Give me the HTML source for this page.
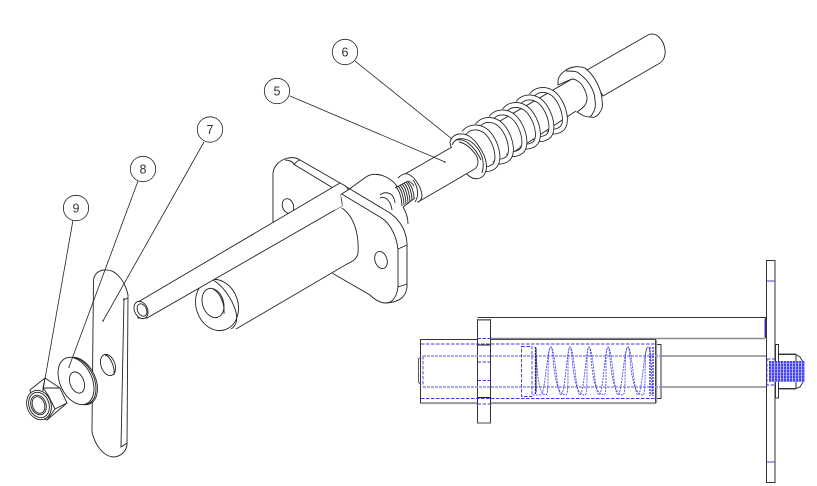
<!DOCTYPE html>
<html><head><meta charset="utf-8"><style>
html,body{margin:0;padding:0;background:#fff;width:817px;height:486px;overflow:hidden}
svg{display:block}
text{font-family:"Liberation Sans",sans-serif;font-size:12.5px;fill:#333;text-anchor:middle}
.k{fill:none;stroke:#222;stroke-width:.9}
.w{fill:#fff;stroke:#222;stroke-width:.9}
.f{fill:#fff;stroke:none}
.t{fill:none;stroke:#222;stroke-width:.8}
.g{stroke:#8a8a8a;stroke-width:1.6;fill:none}
.b{stroke:#3a3ae8;stroke-width:.9;stroke-dasharray:3.5 1.5;fill:none}
.bl{stroke:#8f8fee;stroke-width:1.6;stroke-dasharray:3 1;fill:none}
</style></head><body>
<svg width="817" height="486" viewBox="0 0 817 486" xmlns="http://www.w3.org/2000/svg">
<rect width="817" height="486" fill="#fff"/>

<!-- tip, shaft -->
<path class="w" d="M587,70L648,35C656,31 664,40 665,50C666,56 663,61 660,63L603,96Z"/>
<path class="k" d="M500,121L572,79M500,161L576,111"/>

<!-- collar -->
<path class="w" d="M558,80C559,75 563,72 566,70C572,66 580,66 585,68C590,72 594,77 597,83C600,89 602,95 602,100C603,106 602,110 600,112C597,117 594,118 590,117C586,117 584,116 582,115L577,112C580,110 584,107 585,105C587,102 587,100 587,97C586,92 584,88 582,85C579,81 575,79 572,79L558,85Z"/>
<path class="k" d="M566,71C570,71 574,71 577,72C583,76 587,80 590,85C593,90 595,95 595,100C596,106 595,110 593,113C592,115 591,116 590,117"/>

<!-- spring coils, right to left -->
<g fill="none" stroke-linecap="butt">
<path stroke="#222" stroke-width="5.800" d="M531.500,95.500C537.500,87.500 550.500,87.500 558.500,99.500C565.500,110.500 568.500,127.500 558.500,130.500C554.500,132.500 550.500,131.500 548.500,129.500"/>
<path stroke="#fff" stroke-width="4.100" d="M531.500,95.500C537.500,87.500 550.500,87.500 558.500,99.500C565.500,110.500 568.500,127.500 558.500,130.500C554.500,132.500 550.500,131.500 548.500,129.500"/>
<path stroke="#222" stroke-width="5.800" d="M518,103C524,95 537,95 545,107C552,118 555,135 545,138C541,140 537,139 535,137"/>
<path stroke="#fff" stroke-width="4.100" d="M518,103C524,95 537,95 545,107C552,118 555,135 545,138C541,140 537,139 535,137"/>
<path stroke="#222" stroke-width="5.800" d="M504.500,110.500C510.500,102.500 523.500,102.500 531.500,114.500C538.500,125.500 541.500,142.500 531.500,145.500C527.500,147.500 523.500,146.500 521.500,144.500"/>
<path stroke="#fff" stroke-width="4.100" d="M504.500,110.500C510.500,102.500 523.500,102.500 531.500,114.500C538.500,125.500 541.500,142.500 531.500,145.500C527.500,147.500 523.500,146.500 521.500,144.500"/>
<path stroke="#222" stroke-width="5.800" d="M491,118C497,110 510,110 518,122C525,133 528,150 518,153C514,155 510,154 508,152"/>
<path stroke="#fff" stroke-width="4.100" d="M491,118C497,110 510,110 518,122C525,133 528,150 518,153C514,155 510,154 508,152"/>
<path stroke="#222" stroke-width="5.800" d="M477.500,125.500C483.500,117.500 496.500,117.500 504.500,129.500C511.500,140.500 514.500,157.500 504.500,160.500C500.500,162.500 496.500,161.500 494.500,159.500"/>
<path stroke="#fff" stroke-width="4.100" d="M477.500,125.500C483.500,117.500 496.500,117.500 504.500,129.500C511.500,140.500 514.500,157.500 504.500,160.500C500.500,162.500 496.500,161.500 494.500,159.500"/>
<path stroke="#222" stroke-width="5.800" d="M464,133C470,125 483,125 491,137C498,148 501,165 491,168C487,170 483,169 481,167"/>
<path stroke="#fff" stroke-width="4.100" d="M464,133C470,125 483,125 491,137C498,148 501,165 491,168C487,170 483,169 481,167"/>
</g>

<!-- end ring -->
<path class="w" d="M450,143C450,138 455,134 460,134C468,133 475,140 480,148C486,157 489,168 484,175C480,180 473,180 468,175L455,165Z"/>
<path class="k" d="M452,145C455,138 462,137 470,141C480,148 486,160 482,173M457,140C465,138 475,147 481,160"/>

<!-- shaft 5 -->
<path class="f" d="M405,174L452,147C462,140 470,148 476,155C480,162 480,168 473,170L418,202Z"/>
<path class="k" d="M405,174L452,147M418,202L473,170C479,167 479,160 476,155C471,148 465,143 459,142"/>
<path class="k" d="M398,178C402,174 405,173 408,174C415,177 421,187 422,195C422,199 420,202 417,202M413,180C417,185 420,195 415,202"/>

<!-- flange back -->
<path class="w" d="M273,222L273,173C274,165 280,160 288,158C294,157 297,158 300,160L340,183L340,230L300,230Z"/>
<path class="k" d="M285,160C290,160 293,162 295,165L333,188M300,160C297,161 295,163 294,165"/>
<ellipse class="k" cx="288" cy="206" rx="5.500" ry="7.500" transform="rotate(-18 288 206)"/>

<!-- flange front -->
<path class="f" d="M332,273L340,190L348,190L366,177C372,173 380,174 386,177C392,180 396,184 398,188L403,207L407,215L408,243L407,287C406,296 401,303 386,303C381,303 375,300 370,295Z"/>
<path class="k" d="M348,190L366,177C372,173 380,174 386,177C392,180 396,184 398,188M403,207C406,212 408,218 408,224"/>
<path class="k" d="M340,183L390,213C402,222 406,232 407,243L407,287C406,296 401,302 386,303"/>
<path class="k" d="M340,193L380,217C391,223 397,238 398,250L398,287C397,297 392,303 386,303C381,303 375,300 370,295L332,273"/>
<path class="k" d="M398,249L407,245M398,287L407,284"/>
<ellipse class="k" cx="381" cy="260" rx="6" ry="8.800" transform="rotate(-18 381 260)"/>
<path class="k" d="M380,195C383,192 388,192 392,195C394,198 395,201 395,203M380,198C384,196 387,198 390,203C391,206 392,208 392,210"/>

<!-- thread -->
<path class="f" d="M395,188L408,181L415,198L403,207Z"/>
<g class="k" stroke-width=".8">
<path d="M395,188L408,181C411,182 413,184 414,186M403,207L415,198"/>
<path d="M396,187C400,191 402,200 402,206M398,186C402,190 404,199 404,205M400,185C404,189 406,198 406,204M402,184C406,188 408,197 408,203M404,183C408,187 410,196 410,202M406,182C410,186 412,195 412,200M408,182C412,186 414,193 414,198"/>
</g>

<!-- cylinder -->
<path class="f" d="M200,270L340,190L342,208C356,218 359,238 358,253C357,260 352,263 347,265L239,328L200,320Z"/>
<path class="k" d="M342,208C356,218 359,238 358,253C357,259 352,262 347,264L236,329"/>
<ellipse class="w" cx="217" cy="305" rx="21" ry="26" transform="rotate(-18 217 305)"/>
<path class="k" d="M213,280C222,285 232,298 236,312C238,321 236,326 231,329"/>
<ellipse class="k" cx="213" cy="303" rx="10.500" ry="15" transform="rotate(-18 213 303)"/>
<path class="k" d="M213,289C219,292 225,302 224,314"/>

<!-- long rod -->
<path class="w" d="M138,302L340,183C344,185 348,187 348,190L340,195C342,199 342,203 342,206L147,318L138,318Z"/>
<path class="f" d="M333,189L339,185L342,206L335,210Z"/>
<ellipse class="w" cx="141" cy="310" rx="6.500" ry="9" transform="rotate(-25 141 310)"/>
<ellipse class="k" cx="142" cy="310" rx="4.500" ry="6.500" transform="rotate(-25 142 310)"/>

<!-- plate 7 -->
<path class="w" d="M92,428L93.500,280C94,274 99,270 105,270C116,269 125,281 128,295L127,445C126,452 120,457 113,457C103,456 95,445 92,432Z"/>
<path class="k" d="M123,300L128,298M124,298L121,447L127,443"/>
<ellipse class="k" cx="108" cy="365" rx="7" ry="11" transform="rotate(-20 108 365)"/>
<path class="k" d="M105,355C110,356 115,366 114,375"/>

<!-- washer -->
<ellipse class="w" cx="79.500" cy="381" rx="16" ry="25" transform="rotate(-25 79.500 381)"/>
<ellipse class="w" cx="78" cy="381" rx="16" ry="25" transform="rotate(-25 78 381)"/>
<ellipse class="w" cx="76" cy="381" rx="16" ry="25" transform="rotate(-25 76 381)"/>
<ellipse class="k" cx="77" cy="382.500" rx="7" ry="11" transform="rotate(-20 77 382.500)"/>

<!-- nut -->
<path class="w" d="M30,390L45,378L60,388L67,403L47,420L36,416Z"/>
<path class="k" d="M45,378L43,388M43,388L60,388M48,395L55,409L47,420M43,388L48,395M55,409L67,403"/>
<ellipse class="w" cx="39" cy="405" rx="12" ry="15" transform="rotate(-20 39 405)"/>
<ellipse class="k" cx="39" cy="405" rx="10" ry="13" transform="rotate(-20 39 405)"/>
<ellipse class="k" cx="38.500" cy="405" rx="7.500" ry="10" transform="rotate(-20 38.500 405)"/>
<ellipse class="k" cx="38.500" cy="405" rx="6" ry="8.500" transform="rotate(-20 38.500 405)"/>

<!-- balloons and leaders on top -->
<g class="t">
<circle cx="345" cy="52" r="12.700"/><circle cx="277" cy="91" r="12.700"/><circle cx="210" cy="129.500" r="12.700"/><circle cx="143" cy="169" r="12.700"/><circle cx="76" cy="208" r="12.700"/>
<path d="M355,61L452,139M290,96L445,162M204,142L103,321M138,181L69,367M73,220L43,390"/>
</g>
<text x="345" y="56.500">6</text><text x="277" y="95.500">5</text><text x="210" y="134">7</text><text x="143" y="173.500">8</text><text x="76" y="212.500">9</text>
<g fill="#222"><circle cx="445" cy="162" r=".8"/><circle cx="103" cy="321" r=".8"/><circle cx="69" cy="367" r=".8"/><circle cx="43" cy="390" r=".8"/></g>

<!-- section view -->
<g fill="none">
<rect x="420.500" y="339.500" width="235" height="63.500" stroke="#333" stroke-width="1"/>
<path stroke="#333" d="M477.500,317.500H765.500V338M655.500,344.500H661V398.500H655.500"/>
<path class="g" d="M490,338.500H765M661,356H766M661,387H766"/>
<path stroke="#999" stroke-width="1.300" d="M421,403.500H656M656.500,340V403"/>
<rect x="477.500" y="319.500" width="13" height="103.500" fill="#fff" stroke="#333"/>
<path stroke="#888" stroke-width="1.500" d="M477.500,320H490.500M477.500,423H490.500"/>
<path stroke="#222" d="M477.500,345H490.500M477.500,397.500H490.500"/>
<path class="b" stroke-width="1.500" d="M477.500,338.500H490.500M477.500,404H490.500"/>
<path class="b" d="M477.500,362H490.500M477.500,380.500H490.500"/>
<path stroke="#555" d="M421,357L418.500,359V382L421,385"/>
<path class="b" d="M421,344H655M421,398.500H655M423,356V386.500"/>
<path class="bl" d="M423,356H661M423,387H661"/>
<rect class="b" x="521.500" y="346.500" width="10.500" height="50"/>
<path class="b" style="stroke-width:.8;stroke-dasharray:2 1" d="M533,395C534,395 537,395 541,395C545,395 547,347 551,347C555,347 557,395 561,395C565,395 567,347 570,347C574,347 576,395 580,395C584,395 586,347 589,347C593,347 595,395 599,395C603,395 605,347 608,347C612,347 614,395 618,395C622,395 624,347 628,347C632,347 634,395 638,395C642,395 644,347 648,347C651,347 652,372 652,395"/>
<path class="b" style="stroke-width:.8;stroke-dasharray:2 1" d="M535,347C538,360 536,395 546,395C550,395 546,347 551,347C554,347 552,395 566,395C570,395 566,347 570,347C573,347 571,395 585,395C589,395 585,347 589,347C592,347 590,395 604,395C608,395 604,347 608,347C611,347 609,395 623,395C627,395 623,347 628,347C631,347 629,395 643,395C647,395 643,347 648,347"/>
<path stroke="#2424e0" stroke-width="1.300" stroke-dasharray="2 1" d="M535.500,347V395M650,347V396M653,347V396"/>
<path stroke="#222" d="M536,348V392"/>

<!-- right plate -->
<rect x="766.500" y="260.500" width="8.500" height="222" fill="#fff" stroke="#333"/>
<path stroke="#4040d8" d="M766.500,281H775M766.500,462H775"/>
<path stroke="#2d2dd8" d="M765,319V337"/>
<rect class="b" x="767" y="359" width="8" height="26" stroke-dasharray="3 1.500"/>
<rect x="775.500" y="344.500" width="3" height="53.500" fill="#fff" stroke="#333"/>
<path stroke="#333" d="M778.500,354.500H796V388.500H778.500M796,354.500L800,357L803,362V382L800,387L796,388.500"/>
<path stroke="#aaa" d="M779,353.500H796M779,389.500H796"/>
<g stroke="#2222ee">
<rect x="769" y="361" width="36" height="21" fill="#b5b5f8" stroke="none"/>
<path stroke-width="1.300" stroke-dasharray="2 1" d="M769,362H805M769,365H805M769,368H805M769,371H805M769,374H805M769,377H805M769,380H805"/>
<path stroke-width=".8" d="M770,361V382M773,361V382M776,361V382M779,361V382M782,361V382M785,361V382M788,361V382M791,361V382M794,361V382M797,361V382M800,361V382M803,361V382"/>
</g>
</g>
</svg>
</body></html>
